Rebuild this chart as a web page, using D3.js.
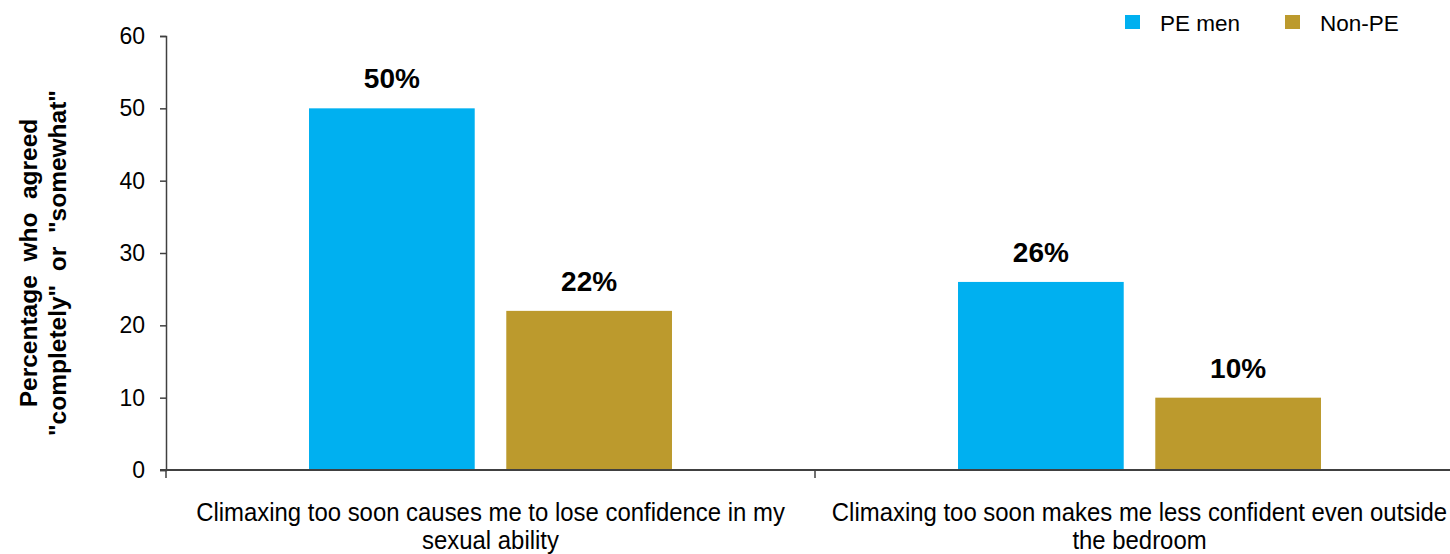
<!DOCTYPE html>
<html>
<head>
<meta charset="utf-8">
<script src="https://cdn.jsdelivr.net/npm/d3@7"></script>
<style>
  html, body { margin: 0; padding: 0; background: #fff; }
  svg { display: block; font-family: "Liberation Sans", Arial, sans-serif; }
</style>
</head>
<body>
<svg id="chart" width="1450" height="554"></svg>
<script>
const categories = [
  ["Climaxing too soon causes me to lose confidence in my", "sexual ability"],
  ["Climaxing too soon makes me less confident even outside", "the bedroom"]
];
const seriesNames = ["PE men", "Non-PE"];
const peMen = [50, 26];
const nonPE = [22, 10];
const yTicks = [0, 10, 20, 30, 40, 50, 60];
const colors = ["#00B0F0", "#BC9A2D"];
const yTitle = ["Percentage  who  agreed", "\"completely\"  or  \"somewhat\""];

const svg = d3.select("#chart");
const margin = { left: 166, top: 36, bottom: 84 };
const plotW = 1298, plotH = 434;
const g = svg.append("g").attr("transform", `translate(${margin.left},${margin.top})`);

const x0 = d3.scaleBand().domain(d3.range(categories.length)).range([0, plotW]).paddingInner(0).paddingOuter(0);
const x1 = d3.scaleBand().domain(d3.range(seriesNames.length)).range([0, x0.bandwidth()])
  .paddingInner(0.16).paddingOuter(0.725);
const y = d3.scaleLinear().domain([0, 60]).range([plotH, 0]);

const series = [peMen, nonPE];
const axisColor = "#404040";

// bars
categories.forEach((c, i) => {
  series.forEach((s, j) => {
    g.append("rect")
      .attr("x", x0(i) + x1(j))
      .attr("y", y(s[i]))
      .attr("width", x1.bandwidth())
      .attr("height", y(0) - y(s[i]))
      .attr("fill", colors[j]);
    g.append("text")
      .attr("x", x0(i) + x1(j) + x1.bandwidth() / 2)
      .attr("y", y(s[i]) - 20)
      .attr("text-anchor", "middle")
      .attr("font-weight", "bold")
      .attr("font-size", 28)
      .attr("fill", "#000")
      .text(s[i] + "%");
  });
});

// y axis
const yAxis = g.append("g").call(d3.axisLeft(y).tickValues(yTicks).tickSize(6).tickPadding(15));
yAxis.select(".domain").attr("stroke", axisColor).attr("stroke-width", 1.5);
yAxis.selectAll(".tick line").attr("stroke", axisColor).attr("stroke-width", 1.5);
yAxis.selectAll(".tick text").attr("font-size", 23).attr("fill", "#000")
  .attr("font-family", "'Liberation Sans', Arial, sans-serif");

// x axis
const xAxisG = g.append("g").attr("transform", `translate(0,${plotH})`);
xAxisG.append("line").attr("x1", -6).attr("x2", plotW + 10).attr("y1", 0).attr("y2", 0)
  .attr("stroke", axisColor).attr("stroke-width", 1.8);
const bounds = d3.range(categories.length + 1).map(i => i < categories.length ? x0(i) : x0(i - 1) + x0.bandwidth());
xAxisG.selectAll("line.tk").data(bounds).enter().append("line")
  .attr("class", "tk")
  .attr("x1", d => d).attr("x2", d => d).attr("y1", 0).attr("y2", 8)
  .attr("stroke", axisColor).attr("stroke-width", 1.5);

// category labels
categories.forEach((c, i) => {
  const cx = x0(i) + x0.bandwidth() / 2;
  const t = xAxisG.append("g").attr("transform", `translate(${cx},0) scale(0.92,1)`);
  c.forEach((line, k) => {
    t.append("text")
      .attr("x", 0)
      .attr("y", 51 + k * 28)
      .attr("text-anchor", "middle")
      .attr("font-size", 26)
      .attr("fill", "#000")
      .text(line);
  });
});

// y title
const yt = svg.append("g").attr("transform", "translate(0,263) rotate(-90)");
yTitle.forEach((line, k) => {
  yt.append("text")
    .attr("x", 0)
    .attr("y", 37 + k * 29)
    .attr("text-anchor", "middle")
    .attr("font-weight", "bold")
    .attr("font-size", 24.5)
    .attr("fill", "#000")
    .text(line)
    .style("white-space", "pre");
});

// legend
const legendX = [1125, 1285];
seriesNames.forEach((name, j) => {
  const lg = svg.append("g").attr("transform", `translate(${legendX[j]},0)`);
  lg.append("rect").attr("x", 0).attr("y", 15).attr("width", 15).attr("height", 14).attr("fill", colors[j]);
  lg.append("text").attr("x", 35).attr("y", 31).attr("font-size", 22.5).attr("fill", "#000").text(name);
});
</script>
</body>
</html>
